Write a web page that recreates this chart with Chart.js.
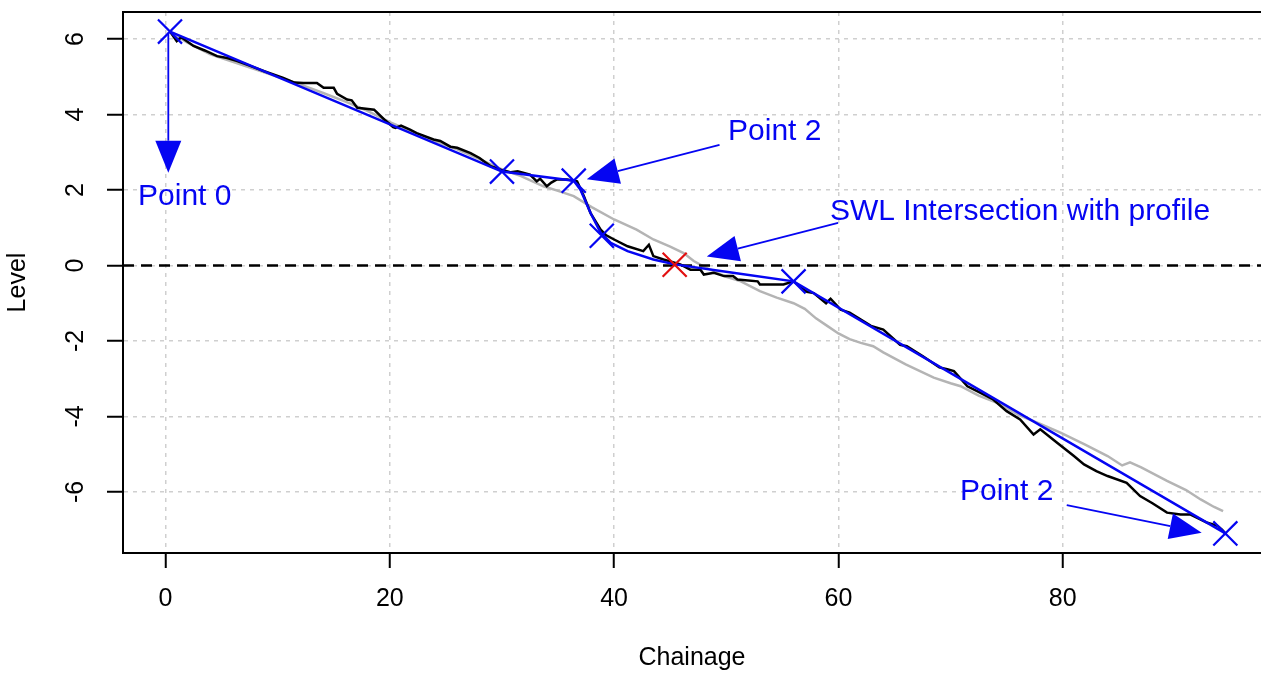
<!DOCTYPE html>
<html>
<head>
<meta charset="utf-8">
<script src="https://cdn.jsdelivr.net/npm/chart.js@4/dist/chart.umd.min.js"></script>
<style>
  html, body { margin: 0; padding: 0; overflow: hidden; background: #fff; }
  #wrap { width: 1261px; height: 673px; }
</style>
</head>
<body>
<div id="wrap"><canvas id="grafico"></canvas></div>
<script>
// eixos
const xTicks = [0, 20, 40, 60, 80]
const yTicks = [-6, -4, -2, 0, 2, 4, 6]
const xTitle = "Chainage"
const yTitle = "Level"
const swlLevel = 0

// perfil medido (preto)
const profileX = [0.4, 1.0, 1.4, 2.5, 3.5, 4.6, 5.5, 6.4, 7.5, 8.8, 10.5, 11.5, 12.3, 13.5, 14.1, 15.0, 15.3, 16.2, 16.6, 17.1, 18.6, 19.5, 20.3, 20.5, 21.0, 21.8, 22.4, 23.9, 24.5, 25.4, 26.0, 27.2, 28.0, 29.0, 29.9, 30.8, 31.4, 32.5, 33.1, 33.4, 34.0, 34.4, 34.9, 35.8, 36.7, 37.3, 37.9, 38.8, 39.3, 40.0, 41.2, 42.6, 43.1, 43.5, 44.4, 45.9, 46.8, 47.7, 48.0, 48.9, 49.8, 50.6, 51.0, 52.8, 53.0, 55.1, 56.0, 57.2, 57.8, 58.9, 59.3, 60.2, 61.0, 62.0, 62.9, 64.0, 65.5, 66.1, 67.5, 69.0, 69.7, 70.3, 71.5, 72.5, 73.8, 75.0, 76.2, 77.4, 78.0, 79.5, 81.0, 81.9, 83.0, 84.0, 85.7, 86.9, 88.0, 89.3, 90.5, 91.4, 92.9, 93.8, 94.2, 94.5]
const profileY = [6.2, 5.95, 6.05, 5.82, 5.7, 5.55, 5.5, 5.42, 5.3, 5.15, 4.97, 4.85, 4.84, 4.84, 4.71, 4.71, 4.55, 4.4, 4.38, 4.18, 4.13, 3.87, 3.67, 3.65, 3.71, 3.6, 3.51, 3.34, 3.3, 3.15, 3.12, 2.98, 2.85, 2.63, 2.54, 2.47, 2.5, 2.41, 2.23, 2.3, 2.1, 2.2, 2.28, 2.28, 2.23, 1.84, 1.39, 0.95, 0.8, 0.69, 0.51, 0.38, 0.55, 0.25, 0.16, 0.03, -0.11, -0.11, -0.24, -0.19, -0.28, -0.28, -0.37, -0.42, -0.5, -0.5, -0.42, -0.7, -0.73, -1.0, -0.88, -1.17, -1.25, -1.43, -1.6, -1.7, -2.1, -2.14, -2.4, -2.7, -2.75, -2.8, -3.2, -3.35, -3.55, -3.86, -4.08, -4.48, -4.34, -4.7, -5.05, -5.27, -5.45, -5.58, -5.76, -6.11, -6.3, -6.55, -6.6, -6.6, -6.82, -6.9, -7.0, -7.1]

// perfil anterior (cinza)
const prevX = [0.6, 2, 4, 6, 8, 10, 12, 14, 16, 18, 20, 22, 24, 26, 28, 30, 31.7, 33.7, 35, 36.4, 38, 40, 42, 43.5, 45, 46.2, 47.1, 48, 50, 51.3, 53, 54.5, 56, 57, 58, 59, 60, 61, 62, 63.1, 64, 66, 68.5, 70, 70.9, 72.5, 74.5, 76, 78, 79.8, 82, 84, 85.3, 86, 87, 89.3, 91, 92.3, 93.5, 94.3]
const prevY = [6.15, 5.9, 5.6, 5.4, 5.2, 5.0, 4.8, 4.58, 4.35, 4.1, 3.8, 3.55, 3.3, 3.08, 2.82, 2.55, 2.37, 2.1, 1.98, 1.84, 1.55, 1.22, 0.95, 0.69, 0.5, 0.33, 0.12, -0.03, -0.3, -0.42, -0.68, -0.85, -1.0, -1.15, -1.4, -1.6, -1.8, -1.95, -2.05, -2.14, -2.3, -2.62, -2.97, -3.12, -3.2, -3.45, -3.68, -3.95, -4.2, -4.43, -4.75, -5.05, -5.3, -5.22, -5.35, -5.71, -5.95, -6.2, -6.4, -6.51]

// linha ajustada (azul)
const fitX = [0.4, 30.0, 36.4, 37.0, 37.9, 38.8, 39.7, 41.2, 43.5, 45.4, 50.6, 56.0, 94.5]
const fitY = [6.2, 2.49, 2.25, 2.01, 1.39, 0.87, 0.6, 0.38, 0.16, 0.03, -0.19, -0.42, -7.1]

// pontos marcados
const markX = [0.4, 30.0, 36.4, 38.9, 56.0, 94.5]
const markY = [6.2, 2.49, 2.25, 0.79, -0.42, -7.1]
const swlX = [45.4]
const swlY = [0.02]

// anotacoes: [x inicio, y inicio, x ponta, y ponta]
const arrows = [
    [0.25, 6.17, 0.25, 2.46],
    [49.4, 3.2, 37.56, 2.29],
    [59.97, 1.13, 48.26, 0.24],
    [80.36, -6.35, 92.39, -7.08]
]
const labels = ["Point 0", "Point 2", "SWL Intersection with profile", "Point 2"]
const labelX = [-2.45, 50.16, 59.25, 70.84]
const labelY = [1.61, 3.32, 1.21, -6.21]

const xMin = -3.79, xMax = 97.68
const yMin = -7.62, yMax = 6.72
const azul = "#0505f2"
const fonte = "'Liberation Sans', Arial, sans-serif"

const pares = (xs, ys) => xs.map((x, i) => ({ x: x, y: ys[i] }))

const molduraPlugin = {
    id: "moldura",
    afterDraw(chart) {
        const { ctx, chartArea: a, scales } = chart
        ctx.save()
        // borda de cima (a direita fica fora da imagem)
        ctx.strokeStyle = "#000"
        ctx.lineWidth = 2
        ctx.beginPath()
        ctx.moveTo(a.left, a.top)
        ctx.lineTo(a.right, a.top)
        ctx.stroke()

        // rotulos do eixo y, girados como no R
        ctx.fillStyle = "#000"
        ctx.font = "25px " + fonte
        ctx.textAlign = "center"
        ctx.textBaseline = "middle"
        yTicks.forEach((v) => {
            ctx.save()
            ctx.translate(76, scales.y.getPixelForValue(v))
            ctx.rotate(-Math.PI / 2)
            ctx.fillText(String(v), 0, 0)
            ctx.restore()
        })
        ctx.restore()
    }
}

const setasPlugin = {
    id: "setas",
    afterDatasetsDraw(chart) {
        const { ctx, scales } = chart
        ctx.save()
        ctx.strokeStyle = azul
        ctx.fillStyle = azul
        ctx.lineWidth = 1.8
        arrows.forEach((s) => {
            const x1 = scales.x.getPixelForValue(s[0]), y1 = scales.y.getPixelForValue(s[1])
            const x2 = scales.x.getPixelForValue(s[2]), y2 = scales.y.getPixelForValue(s[3])
            const ang = Math.atan2(y2 - y1, x2 - x1)
            const len = 32, half = 13
            const bx = x2 - len * Math.cos(ang), by = y2 - len * Math.sin(ang)
            ctx.beginPath()
            ctx.moveTo(x1, y1)
            ctx.lineTo(bx, by)
            ctx.stroke()
            ctx.beginPath()
            ctx.moveTo(x2, y2)
            ctx.lineTo(bx + half * Math.sin(ang), by - half * Math.cos(ang))
            ctx.lineTo(bx - half * Math.sin(ang), by + half * Math.cos(ang))
            ctx.closePath()
            ctx.fill()
        })
        ctx.font = "30px " + fonte
        ctx.textAlign = "left"
        ctx.textBaseline = "alphabetic"
        labels.forEach((t, i) => {
            ctx.fillText(t, scales.x.getPixelForValue(labelX[i]), scales.y.getPixelForValue(labelY[i]))
        })
        ctx.restore()
    }
}

const linha = (data, cor, largura, ordem) => ({
    data: data, showLine: true, borderColor: cor, borderWidth: largura,
    pointRadius: 0, fill: false, tension: 0, order: ordem
})

const data = {
    datasets: [
        { data: pares(markX, markY), pointStyle: "crossRot", pointRadius: 17, borderColor: azul, borderWidth: 2.2, showLine: false, order: 0 },
        { data: pares(swlX, swlY), pointStyle: "crossRot", pointRadius: 17, borderColor: "#e21010", borderWidth: 2.2, showLine: false, order: 0 },
        linha(pares(fitX, fitY), azul, 2.5, 1),
        Object.assign(linha([{ x: xMin, y: swlLevel }, { x: xMax, y: swlLevel }], "#000", 2.5, 2), { borderDash: [11, 7] }),
        linha(pares(profileX, profileY), "#000", 2.5, 3),
        linha(pares(prevX, prevY), "#b4b4b4", 2.5, 4)
    ]
}

const config = {
    type: "scatter",
    data: data,
    plugins: [molduraPlugin, setasPlugin],
    options: {
        responsive: true,
        maintainAspectRatio: false,
        animation: false,
        events: [],
        layout: { autoPadding: false, padding: { top: 12, right: 0, left: 0, bottom: 0 } },
        plugins: { legend: { display: false }, tooltip: { enabled: false } },
        scales: {
            x: {
                type: "linear", min: xMin, max: xMax,
                afterBuildTicks: (s) => { s.ticks = xTicks.map((v) => ({ value: v })) },
                afterFit: (s) => { s.height = 120 },
                ticks: { color: "#000", font: { size: 25, family: fonte }, padding: 16, maxRotation: 0 },
                grid: { color: "#cfcfcf", lineWidth: 1.5, tickColor: "#000", tickLength: 15, tickWidth: 2 },
                border: { color: "#000", width: 2, dash: [4, 5] },
                title: { display: true, text: xTitle, color: "#000", font: { size: 25, family: fonte }, padding: { top: 0, bottom: 0 } }
            },
            y: {
                type: "linear", min: yMin, max: yMax,
                afterBuildTicks: (s) => { s.ticks = yTicks.map((v) => ({ value: v })) },
                afterFit: (s) => { s.width = 123 },
                ticks: { display: false },
                grid: { color: "#cfcfcf", lineWidth: 1.5, tickColor: "#000", tickLength: 16, tickWidth: 2 },
                border: { color: "#000", width: 2, dash: [4, 5] },
                title: { display: true, text: yTitle, color: "#000", font: { size: 25, family: fonte }, padding: { top: 3, bottom: 0 } }
            }
        }
    }
}

new Chart(document.getElementById("grafico"), config)
</script>
</body>
</html>
